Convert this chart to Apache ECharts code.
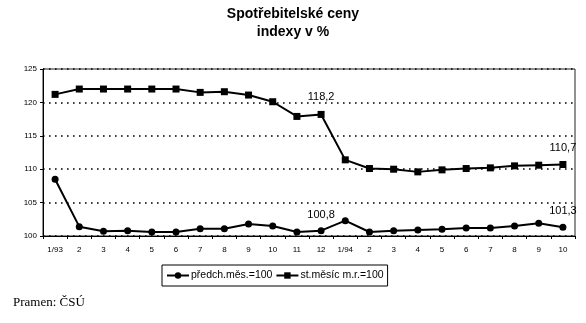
<!DOCTYPE html>
<html>
<head>
<meta charset="utf-8">
<script src="https://cdn.jsdelivr.net/npm/echarts@6/dist/echarts.min.js"></script>
<style>
  html, body { margin: 0; padding: 0; background: #fff; }
  #chart { width: 586px; height: 323px; }
</style>
</head>
<body>
<div id="chart"></div>
<script>
// Months from January 1993 to October 1994
const months = ['1/93', '2', '3', '4', '5', '6', '7', '8', '9', '10', '11', '12',
                '1/94', '2', '3', '4', '5', '6', '7', '8', '9', '10'];

// Index against the previous month (= 100)
const prevMonth = [108.5, 101.4, 100.7, 100.8, 100.6, 100.6, 101.1, 101.1, 101.8, 101.5, 100.6, 100.8,
                   102.3, 100.6, 100.8, 100.9, 101.0, 101.2, 101.2, 101.5, 101.9, 101.3];

// Index against the same month of the previous year (= 100)
const sameMonthPrevYear = [121.2, 122.0, 122.0, 122.0, 122.0, 122.0, 121.5, 121.6, 121.1, 120.1, 117.9, 118.2,
                           111.4, 110.1, 110.0, 109.6, 109.9, 110.1, 110.2, 110.5, 110.6, 110.7];

// Points whose value is printed next to them
const labelledPoints = [11, 21];

const seriesNames = ['předch.měs.=100', 'st.měsíc m.r.=100'];
const yTicks = { min: 100, max: 125, step: 5 };

const font = 'Liberation Sans, Arial, sans-serif';

function withLabels(values) {
  return values.map((v, i) => ({
    value: v,
    label: { show: labelledPoints.includes(i) }
  }));
}

const chart = echarts.init(document.getElementById('chart'), null, { renderer: 'canvas' });

chart.setOption({
  animation: false,
  backgroundColor: '#fff',
  title: {
    text: 'Spotřebitelské ceny\nindexy v %',
    left: 'center',
    top: 0,
    textStyle: {
      fontFamily: font,
      fontWeight: 'bold',
      fontSize: 14,
      lineHeight: 18,
      color: '#000'
    }
  },
  grid: {
    left: 43, right: 11, top: 69, bottom: 87,
    show: true,
    borderColor: '#222',
    borderWidth: 1,
    backgroundColor: 'transparent'
  },
  legend: {
    left: 162, top: 265,
    orient: 'horizontal',
    itemWidth: 22, itemHeight: 8,
    itemGap: 3,
    padding: [5, 4, 5, 4],
    borderColor: '#000',
    borderWidth: 1,
    textStyle: { fontFamily: font, fontSize: 10.5, color: '#000', padding: [0, 0, 0, -3] },
    data: seriesNames
  },
  xAxis: {
    type: 'category',
    data: months,
    boundaryGap: true,
    axisLine: { lineStyle: { color: '#000', width: 1 } },
    axisTick: { show: true, length: 3, lineStyle: { color: '#000' } },
    axisLabel: { fontFamily: font, fontSize: 8, color: '#000', margin: 10, interval: 0 },
    splitLine: { show: false }
  },
  yAxis: {
    type: 'value',
    min: yTicks.min, max: yTicks.max, interval: yTicks.step,
    axisLine: { show: true, lineStyle: { color: '#000', width: 1 } },
    axisTick: { show: true, length: 3, lineStyle: { color: '#000' } },
    axisLabel: { fontFamily: font, fontSize: 8, color: '#000', margin: 6 },
    splitLine: { show: true, lineStyle: { color: '#000', width: 1.6, type: [1.6, 4.4] } }
  },
  series: [
    {
      name: seriesNames[0],
      type: 'line',
      data: withLabels(prevMonth),
      symbol: 'circle',
      symbolSize: 7,
      lineStyle: { color: '#000', width: 2 },
      itemStyle: { color: '#000' },
      label: {
        position: 'top', distance: 7,
        fontFamily: font, fontSize: 11, color: '#000',
        formatter: p => String(p.value).replace('.', ',')
      },
      z: 3
    },
    {
      name: seriesNames[1],
      type: 'line',
      data: withLabels(sameMonthPrevYear),
      symbol: 'rect',
      symbolSize: 7,
      lineStyle: { color: '#000', width: 2 },
      itemStyle: { color: '#000' },
      label: {
        position: 'top', distance: 8,
        fontFamily: font, fontSize: 11, color: '#000',
        formatter: p => String(p.value).replace('.', ',')
      },
      z: 3
    }
  ],
  graphic: [
    {
      type: 'text',
      left: 13, top: 296,
      style: {
        text: 'Pramen: ČSÚ',
        font: '13px "Liberation Serif", "Times New Roman", serif',
        fill: '#000'
      }
    }
  ]
});
</script>
</body>
</html>
